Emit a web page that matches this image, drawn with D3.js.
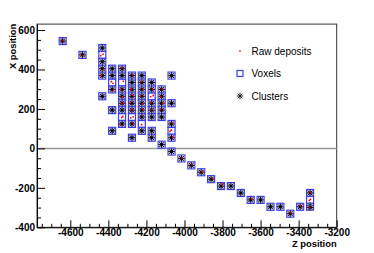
<!DOCTYPE html>
<html>
<head>
<meta charset="utf-8">
<script src="https://cdn.jsdelivr.net/npm/d3@7"></script>
<style>
  body { margin: 0; background: #fff; }
  svg { display: block; font-family: "Liberation Sans", Arial, Helvetica, sans-serif; }
</style>
</head>
<body>
<svg id="chart" width="374" height="253"></svg>
<script>
// voxel centres (Z, X)
const voxZ = [-4640, -4536,
  -4432, -4432, -4432, -4432, -4432, -4432,
  -4380, -4380, -4380, -4380, -4380, -4380,
  -4328, -4328, -4328, -4328, -4328, -4328, -4328, -4328, -4328,
  -4276, -4276, -4276, -4276, -4276, -4276, -4276, -4276, -4276,
  -4224, -4224, -4224, -4224, -4224, -4224, -4224, -4224, -4224,
  -4172, -4172, -4172, -4172, -4172, -4172, -4172, -4172,
  -4120, -4120, -4120, -4120, -4120, -4120,
  -4068, -4068, -4068, -4068, -4068, -4068,
  -4016, -3964, -3912, -3860, -3808, -3756, -3704, -3652, -3600, -3548, -3496, -3444, -3392,
  -3340, -3340, -3340];
const voxX = [544, 474,
  509, 474, 439, 404, 369, 264,
  404, 369, 334, 299, 194, 89,
  404, 369, 334, 299, 264, 229, 194, 159, 124,
  369, 334, 299, 264, 229, 194, 159, 124, 54,
  369, 334, 299, 264, 229, 194, 159, 124, 89,
  334, 299, 264, 229, 194, 159, 89, 54,
  299, 264, 229, 194, 159, 19,
  369, 229, 124, 89, 54, -16,
  -51, -86, -121, -156, -191, -191, -226, -261, -261, -296, -296, -331, -296,
  -226, -261, -296];

// cluster positions (Z, X)
const cluZ = [-4640, -4536,
  -4432, -4432, -4432, -4432, -4432,
  -4380, -4380, -4380, -4380, -4380,
  -4328, -4328, -4328, -4328, -4328, -4328, -4328,
  -4276, -4276, -4276, -4276, -4276, -4276, -4276, -4276,
  -4224, -4224, -4224, -4224, -4224, -4224, -4224, -4224,
  -4172, -4172, -4172, -4172, -4172, -4172, -4172,
  -4120, -4120, -4120, -4120, -4120, -4120,
  -4068, -4068, -4068, -4068, -4068,
  -4016, -3964, -3912, -3860, -3808, -3756, -3704, -3652, -3600, -3548, -3496, -3444, -3392,
  -3340, -3340, -3340];
const cluX = [544, 474,
  509, 439, 404, 369, 264,
  404, 369, 299, 194, 89,
  404, 369, 299, 264, 229, 194, 124,
  369, 334, 299, 264, 229, 194, 124, 54,
  369, 334, 299, 264, 229, 194, 159, 89,
  334, 299, 229, 194, 159, 89, 54,
  299, 264, 229, 194, 159, 19,
  369, 229, 124, 54, -16,
  -51, -86, -121, -156, -191, -191, -226, -261, -261, -296, -296, -331, -296,
  -226, -290, -300];

// raw deposits (Z, X)
const rawZ = [-4636, -4532, -4428, -4440, -4425, -4436, -4384, -4376, -4372,
  -4330, -4322, -4334, -4326, -4320, -4332, -4324, -4330, -4338,
  -4272, -4280, -4270, -4284, -4276, -4270, -4282, -4268,
  -4228, -4216, -4230, -4222, -4218, -4226,
  -4168, -4178, -4164, -4176, -4170,
  -4116, -4124, -4114, -4126,
  -4064, -4070, -4076, -4062,
  -4012, -3960, -3906, -3852, -3798, -3646, -3440, -3388,
  -3338, -3344, -3336, -3342];
const rawX = [548, 470, 478, 470, 400, 372, 338, 330, 296,
  410, 340, 300, 262, 232, 226, 162, 156, 120,
  372, 300, 268, 232, 196, 160, 155, 126,
  338, 300, 265, 226, 198, 120,
  300, 262, 268, 232, 196,
  302, 262, 230, 196,
  130, 92, 86, 58,
  -48, -82, -118, -152, -180, -256, -326, -292,
  -258, -264, -222, -300];

const xTicks = [-4600, -4400, -4200, -4000, -3800, -3600, -3400, -3200];
const yTicks = [600, 400, 200, 0, -200, -400];
const legendLabels = ["Raw deposits", "Voxels", "Clusters"];

const svg = d3.select("#chart"),
    margin = {top: 24.1, right: 37.3, bottom: 25.7, left: 37},
    width = +svg.attr("width") - margin.left - margin.right,
    height = +svg.attr("height") - margin.top - margin.bottom,
    g = svg.append("g").attr("transform", "translate(" + margin.left + "," + margin.top + ")");

const x = d3.scaleLinear().domain([-4775, -3200]).range([0, width]),
    y = d3.scaleLinear().domain([-400, 630]).range([height, 0]);

const starPath = "M-3.3,0H3.3M0,-3.3V3.3M-2.4,-2.4L2.4,2.4M-2.4,2.4L2.4,-2.4";

// frame
g.append("rect")
    .attr("width", width).attr("height", height)
    .attr("fill", "none").attr("stroke", "#333").attr("stroke-width", 1);

// zero line
g.append("line")
    .attr("x1", 0).attr("x2", width)
    .attr("y1", y(0)).attr("y2", y(0))
    .attr("stroke", "#999").attr("stroke-width", 1.5);

// minor ticks
const xMinor = d3.range(-4750, -3200, 50).filter(v => xTicks.indexOf(v) < 0);
const yMinor = d3.range(-350, 630, 50).filter(v => yTicks.indexOf(v) < 0);

g.append("g")
    .attr("transform", "translate(0," + height + ")")
    .call(d3.axisBottom(x).tickValues(xMinor).tickSize(-3.5).tickSizeOuter(0).tickFormat(""))
    .call(a => a.select(".domain").remove());
g.append("g")
    .call(d3.axisLeft(y).tickValues(yMinor).tickSize(-4).tickSizeOuter(0).tickFormat(""))
    .call(a => a.select(".domain").remove());

// major axes
const xAxis = g.append("g")
    .attr("transform", "translate(0," + height + ")")
    .call(d3.axisBottom(x).tickValues(xTicks).tickSize(-7).tickSizeOuter(0).tickPadding(2).tickFormat(d3.format("d")));
const yAxis = g.append("g")
    .call(d3.axisLeft(y).tickValues(yTicks).tickSize(-8).tickSizeOuter(0).tickPadding(2).tickFormat(d3.format("d")));

[xAxis, yAxis].forEach(a => {
    a.selectAll("text")
        .style("font-family", "'Liberation Sans', Arial, sans-serif")
        .style("font-size", "10px")
        .style("font-weight", "bold")
        .attr("fill", "#000")
        .text(function() { return this.textContent.replace("\u2212", "-"); });
});

// axis titles
g.append("text")
    .attr("transform", "rotate(-90)")
    .attr("x", 0.4).attr("y", -21.3)
    .attr("text-anchor", "end")
    .style("font-size", "9.4px").style("font-weight", "bold")
    .text("X position");
g.append("text")
    .attr("x", width).attr("y", height + 19.9)
    .attr("text-anchor", "end")
    .style("font-size", "9.4px").style("font-weight", "bold")
    .text("Z position");

// voxels
const plot = g.append("g");
plot.selectAll(".vox")
    .data(d3.range(voxZ.length))
    .enter().append("rect")
    .attr("class", "vox")
    .attr("x", i => x(voxZ[i]) - 3.5)
    .attr("y", i => y(voxX[i]) - 3.5)
    .attr("width", 7).attr("height", 7)
    .attr("fill", "none").attr("stroke", "#3c3cf0").attr("stroke-width", 1.2);

// clusters: star with a soft grey halo like the anti-aliased original
const clu = plot.selectAll(".clu")
    .data(d3.range(cluZ.length))
    .enter().append("g")
    .attr("class", "clu")
    .attr("transform", i => "translate(" + x(cluZ[i]) + "," + y(cluX[i]) + ")");
clu.append("rect")
    .attr("x", -3).attr("y", -3).attr("width", 6).attr("height", 6)
    .attr("fill", "#a8a8d8").attr("opacity", 0.8);
clu.append("path")
    .attr("d", starPath)
    .attr("stroke", "#111").attr("stroke-width", 1).attr("fill", "none");
clu.append("circle").attr("r", 1.3).attr("fill", "#000");

// raw deposits
plot.selectAll(".raw")
    .data(d3.range(rawZ.length))
    .enter().append("circle")
    .attr("class", "raw")
    .attr("cx", i => x(rawZ[i]))
    .attr("cy", i => y(rawX[i]))
    .attr("r", 0.9)
    .attr("fill", "#ff0000");

// legend
const leg = svg.append("g").attr("transform", "translate(240,51)");
const rows = leg.selectAll("g")
    .data(legendLabels)
    .enter().append("g")
    .attr("transform", (d, i) => "translate(0," + (i * 22.5) + ")");
rows.filter((d, i) => i === 0).append("circle").attr("r", 1).attr("fill", "#ff5050");
rows.filter((d, i) => i === 1).append("rect")
    .attr("x", -3).attr("y", -3).attr("width", 6).attr("height", 6)
    .attr("fill", "none").attr("stroke", "#3c3cf0").attr("stroke-width", 1.2);
rows.filter((d, i) => i === 2).append("path").attr("d", starPath)
    .attr("stroke", "#000").attr("stroke-width", 0.8).attr("fill", "none");
rows.append("text")
    .attr("x", 11.5).attr("dy", "0.35em")
    .style("font-size", "10px")
    .text(d => d);
</script>
</body>
</html>
